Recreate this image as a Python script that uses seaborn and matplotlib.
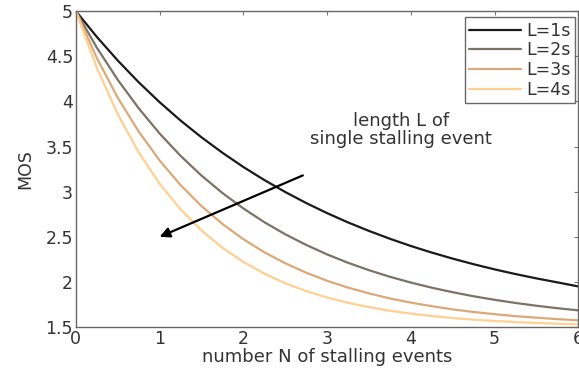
import numpy as np
import pandas as pd
import matplotlib
matplotlib.use("Agg")
import matplotlib.pyplot as plt
import seaborn as sns

N = [0, 0.25, 0.5, 0.75, 1, 1.25, 1.5, 1.75, 2, 2.25, 2.5, 2.75, 3,
     3.25, 3.5, 3.75, 4, 4.25, 4.5, 4.75, 5, 5.25, 5.5, 5.75, 6]
mos_L1 = [5.000, 4.715, 4.453, 4.212, 3.991, 3.788, 3.602, 3.431, 3.273, 3.129, 2.996, 2.874, 2.762,
          2.659, 2.565, 2.478, 2.398, 2.325, 2.258, 2.196, 2.139, 2.087, 2.039, 1.995, 1.950]
mos_L2 = [5.000, 4.596, 4.239, 3.924, 3.644, 3.397, 3.178, 2.985, 2.814, 2.662, 2.528, 2.410, 2.305,
          2.212, 2.130, 2.057, 1.993, 1.936, 1.886, 1.841, 1.802, 1.767, 1.736, 1.709, 1.685]
mos_L3 = [5.000, 4.482, 4.041, 3.666, 3.346, 3.073, 2.840, 2.642, 2.473, 2.329, 2.207, 2.102, 2.013,
          1.937, 1.873, 1.817, 1.771, 1.731, 1.696, 1.667, 1.643, 1.621, 1.604, 1.588, 1.575]
mos_L4 = [5.000, 4.373, 3.858, 3.436, 3.088, 2.804, 2.570, 2.379, 2.221, 2.092, 1.986, 1.899, 1.827,
          1.769, 1.721, 1.681, 1.649, 1.622, 1.600, 1.582, 1.568, 1.555, 1.546, 1.537, 1.530]
labels = ["L=1s", "L=2s", "L=3s", "L=4s"]
xticks = [0, 1, 2, 3, 4, 5, 6]
yticks = [1.5, 2, 2.5, 3, 3.5, 4, 4.5, 5]
ytick_labels = ["1.5", "2", "2.5", "3", "3.5", "4", "4.5", "5"]

frames = []
for lab, vals in zip(labels, [mos_L1, mos_L2, mos_L3, mos_L4]):
    frames.append(pd.DataFrame({"N": N, "MOS": vals, "L": lab}))
df = pd.concat(frames, ignore_index=True)

sns.set_theme(style="white")
plt.rcParams['font.family'] = ['DejaVu Sans']
txt = "#333333"

fig = plt.figure(figsize=(5.79, 3.70), dpi=100)
ax = fig.add_axes([0.131, 0.116, 0.868, 0.854])

palette = {"L=1s": "#1a1a1a", "L=2s": "#7d7266", "L=3s": "#dba878", "L=4s": "#ffd08f"}
sns.lineplot(data=df, x="N", y="MOS", hue="L", palette=palette, linewidth=1.6, ax=ax,
             solid_joinstyle="round")

ax.set_xlim(0, 6)
ax.set_ylim(1.5, 5)
ax.set_xticks(xticks)
ax.set_xticklabels([str(t) for t in xticks])
ax.set_yticks(yticks)
ax.set_yticklabels(ytick_labels)
ax.tick_params(direction="in", length=3, width=0.8, colors="#777777",
               labelcolor=txt, labelsize=12.5, top=True, right=True, pad=2)
for s in ax.spines.values():
    s.set_color("#666666")
    s.set_linewidth(1.0)
ax.set_xlabel("number N of stalling events", fontsize=13, color=txt, labelpad=0)
ax.set_ylabel("MOS", fontsize=12.5, color=txt, labelpad=8)

leg = ax.legend(loc="upper right", bbox_to_anchor=(0.993, 0.98), fontsize=12.5,
                frameon=True, fancybox=False,
                handlelength=3.0, handletextpad=0.3, borderpad=0.25,
                labelspacing=0.1, borderaxespad=0.0)
leg.get_frame().set_edgecolor("#444444")
leg.get_frame().set_linewidth(1.0)
for t in leg.get_texts():
    t.set_color(txt)

ax.annotate("", xy=(1.0, 2.5), xytext=(2.71, 3.18),
            arrowprops=dict(arrowstyle="-|>", color="black", lw=1.6,
                            mutation_scale=15, shrinkA=0, shrinkB=0))
ax.text(3.88, 3.68, "length L of\nsingle stalling event", ha="center", va="center",
        fontsize=13, color=txt, linespacing=1.0)

fig.savefig("out.png", dpi=100)
